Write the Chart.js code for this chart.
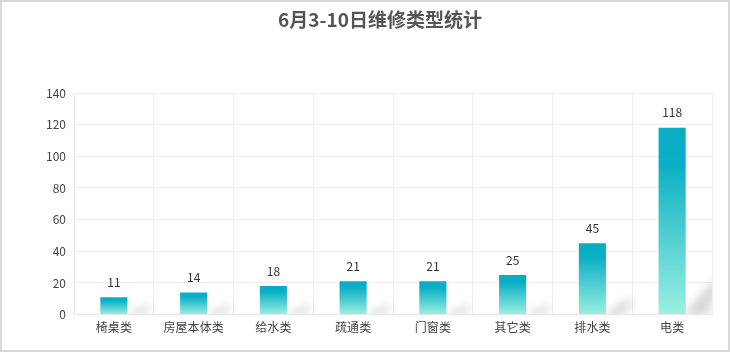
<!DOCTYPE html>
<html><head><meta charset="utf-8">
<script src="https://cdn.jsdelivr.net/npm/chart.js@4"></script>
<style>html,body{margin:0;padding:0;background:#fff}#wrap{width:730px;height:352px;position:relative}</style>
</head><body><div id="wrap"><canvas id="c" width="730" height="352"></canvas></div>
<script>
const titleText = '6月3-10日维修类型统计';
const categories = ['椅桌类','房屋本体类','给水类','疏通类','门窗类','其它类','排水类','电类'];
const values = [11,14,18,21,21,25,45,118];
const yTicks = {min:0, max:140, step:20};

const FONT = '"Microsoft YaHei","Noto Sans CJK SC",sans-serif';

const borderPlugin = {
  id:'borderPlugin',
  beforeDraw(chart){
    const c = chart.ctx;
    c.save();
    c.fillStyle='#fff';
    c.fillRect(0,0,chart.width,chart.height);
    c.strokeStyle='#d9d9d9';
    c.lineWidth=2;
    c.strokeRect(1,1,chart.width-2,chart.height-2);
    c.restore();
  }
};

const titlePlugin = {
  id:'titlePlugin',
  afterDraw(chart){
    const c = chart.ctx;
    c.save();
    c.font = 'bold 19px ' + FONT;
    c.fillStyle = '#555';
    c.textAlign = 'center';
    c.textBaseline = 'middle';
    c.fillText(titleText, 380, 20);
    c.restore();
  }
};

const shadowPlugin = {
  id:'shadowPlugin',
  beforeDatasetsDraw(chart){
    const c = chart.ctx;
    const ca = chart.chartArea;
    const meta = chart.getDatasetMeta(0);
    meta.data.forEach(bar=>{
      const p = bar.getProps(['x','y','base','width'], true);
      const h = p.base - p.y;
      const sh = Math.max(8, Math.min(h*0.2, 32));
      const sw = Math.min(18 + h*0.06, 30);
      const x = p.x + p.width/2;
      const b = p.base;
      c.save();
      c.beginPath();
      c.rect(x, ca.top, Math.min(sw + 12, ca.right - x), b - ca.top);
      c.clip();
      c.filter = 'blur(5px)';
      c.beginPath();
      c.moveTo(x-4, b+2);
      c.lineTo(x + sw*0.9, b - sh);
      c.lineTo(x + sw + 6, b - sh + 2);
      c.lineTo(x + sw*0.7, b + 2);
      c.closePath();
      c.fillStyle = 'rgba(0,0,0,0.16)';
      c.fill();
      c.restore();
    });
  }
};

const labelPlugin = {
  id:'labelPlugin',
  afterDatasetsDraw(chart){
    const c = chart.ctx;
    const meta = chart.getDatasetMeta(0);
    c.save();
    c.font = '12px ' + FONT;
    c.fillStyle = '#333';
    c.textAlign = 'center';
    c.textBaseline = 'middle';
    meta.data.forEach((bar,i)=>{
      const p = bar.getProps(['x','y'], true);
      c.fillText(String(values[i]), p.x, p.y - 15);
    });
    c.restore();
  }
};

function barGradient(ctx){
  const chart = ctx.chart;
  if(!chart.chartArea) return '#0aaec4';
  const ys = chart.scales.y;
  const top = ys.getPixelForValue(ctx.parsed ? ctx.parsed.y : values[ctx.dataIndex]);
  const base = ys.getPixelForValue(0);
  if(!isFinite(top) || !isFinite(base) || top===base) return '#0aaec4';
  const g = chart.ctx.createLinearGradient(0, top, 0, base);
  g.addColorStop(0,'#08adc4');
  g.addColorStop(0.2,'#0cafc5');
  g.addColorStop(1,'#9bf0e1');
  return g;
}

new Chart(document.getElementById('c'), {
  type:'bar',
  data:{
    labels:categories,
    datasets:[{data:values, backgroundColor:barGradient, barPercentage:0.68, categoryPercentage:0.5}]
  },
  options:{
    responsive:false,
    animation:false,
    devicePixelRatio:1,
    layout:{padding:{left:14, right:18, top:93, bottom:11}},
    plugins:{
      legend:{display:false},
      tooltip:{enabled:false},
      title:{display:false}
    },
    scales:{
      x:{
        grid:{color:'#eeeeee', drawTicks:false, offset:true},
        border:{color:'#e6e6e6'},
        ticks:{color:'#444', font:{family:FONT, size:12}, padding:6}
      },
      y:{
        min:yTicks.min, max:yTicks.max,
        grid:{color:'#eeeeee', drawTicks:false},
        border:{color:'#e6e6e6'},
        ticks:{stepSize:yTicks.step, color:'#444', font:{family:FONT, size:12}, padding:8},
        afterFit(s){ s.width = 60; }
      }
    }
  },
  plugins:[borderPlugin, shadowPlugin, labelPlugin, titlePlugin]
});
</script></body></html>
